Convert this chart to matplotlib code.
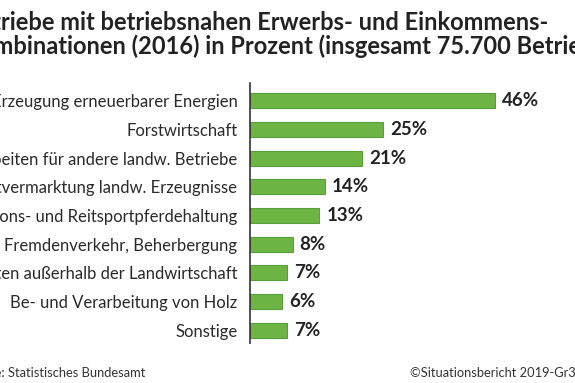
import matplotlib
matplotlib.use('Agg')
import matplotlib.pyplot as plt

# data
categories = [
    'Erzeugung erneuerbarer Energien',
    'Forstwirtschaft',
    'Arbeiten für andere landw. Betriebe',
    'Direktvermarktung landw. Erzeugnisse',
    'Pensions- und Reitsportpferdehaltung',
    'Fremdenverkehr, Beherbergung',
    'Arbeiten außerhalb der Landwirtschaft',
    'Be- und Verarbeitung von Holz',
    'Sonstige',
]
values = [46, 25, 21, 14, 13, 8, 7, 6, 7]
title_lines = [
    'Betriebe mit betriebsnahen Erwerbs- und Einkommens-',
    'Kombinationen (2016) in Prozent (insgesamt 75.700 Betriebe)',
]
source_text = 'Quelle: Statistisches Bundesamt'
credit_text = '©Situationsbericht 2019-Gr31'

W, H = 575, 383
FONT = 'Lato'
BAR = '#6cb544'
EDGE = '#5a9e3a'
TXT = '#222222'


def fx(px):
    return px / W


def fy(py):
    return 1 - py / H


fig = plt.figure(figsize=(W / 100, H / 100), dpi=100)
fig.patch.set_facecolor('white')
renderer = fig.canvas.get_renderer()


def text_width(s, **kw):
    # width in pixels of a string with the given font settings
    t = fig.text(0, 0, s, **kw)
    w = t.get_window_extent(renderer).width
    t.remove()
    return w


# plot area: axis line at x=250, spans y 83..343 px
ax = fig.add_axes([fx(250), fy(343), fx(575) - fx(250), fy(83) - fy(343)])
pos = list(range(len(categories)))
ax.barh(pos, values, height=0.53, color=BAR, edgecolor=EDGE, linewidth=0.8)
ax.set_ylim(8.45, -0.62)
ax.set_xlim(0, 325 / 5.33)

for spine in ['top', 'right', 'bottom']:
    ax.spines[spine].set_visible(False)
ax.spines['left'].set_color('#333333')
ax.spines['left'].set_linewidth(1.2)
ax.set_xticks([])
ax.set_yticks(pos)
ax.set_yticklabels(categories, fontsize=12.0, family=FONT, color='#2a2a2a')
ax.tick_params(axis='y', length=0, pad=9)

for p, v in zip(pos, values):
    ax.text(v + 1.3, p, f'{v}%', va='center', ha='left', fontsize=13.5,
            fontweight='bold', family=FONT, color=TXT)

# title, cropped on the left like the reference ("Bet" is off the picture)
title_kw = dict(fontsize=17, fontweight='bold', family=FONT, color=TXT)
x0 = 1 - text_width('Bet', **title_kw)
fig.text(fx(x0), fy(29.5), title_lines[0], ha='left', va='baseline', **title_kw)
fig.text(fx(x0), fy(53.5), title_lines[1], ha='left', va='baseline', **title_kw)

# footer, cut at both edges like the reference
foot_kw = dict(fontsize=9.3, family=FONT, color='#333333')
xs = 1 - text_width('Quelle', **foot_kw)
fig.text(fx(xs), fy(377), source_text, ha='left', va='baseline', **foot_kw)
xc = 576 - text_width(credit_text[:-1], **foot_kw)
fig.text(fx(xc), fy(377), credit_text, ha='left', va='baseline', **foot_kw)

fig.savefig('out.png', dpi=100)
plt.close()
